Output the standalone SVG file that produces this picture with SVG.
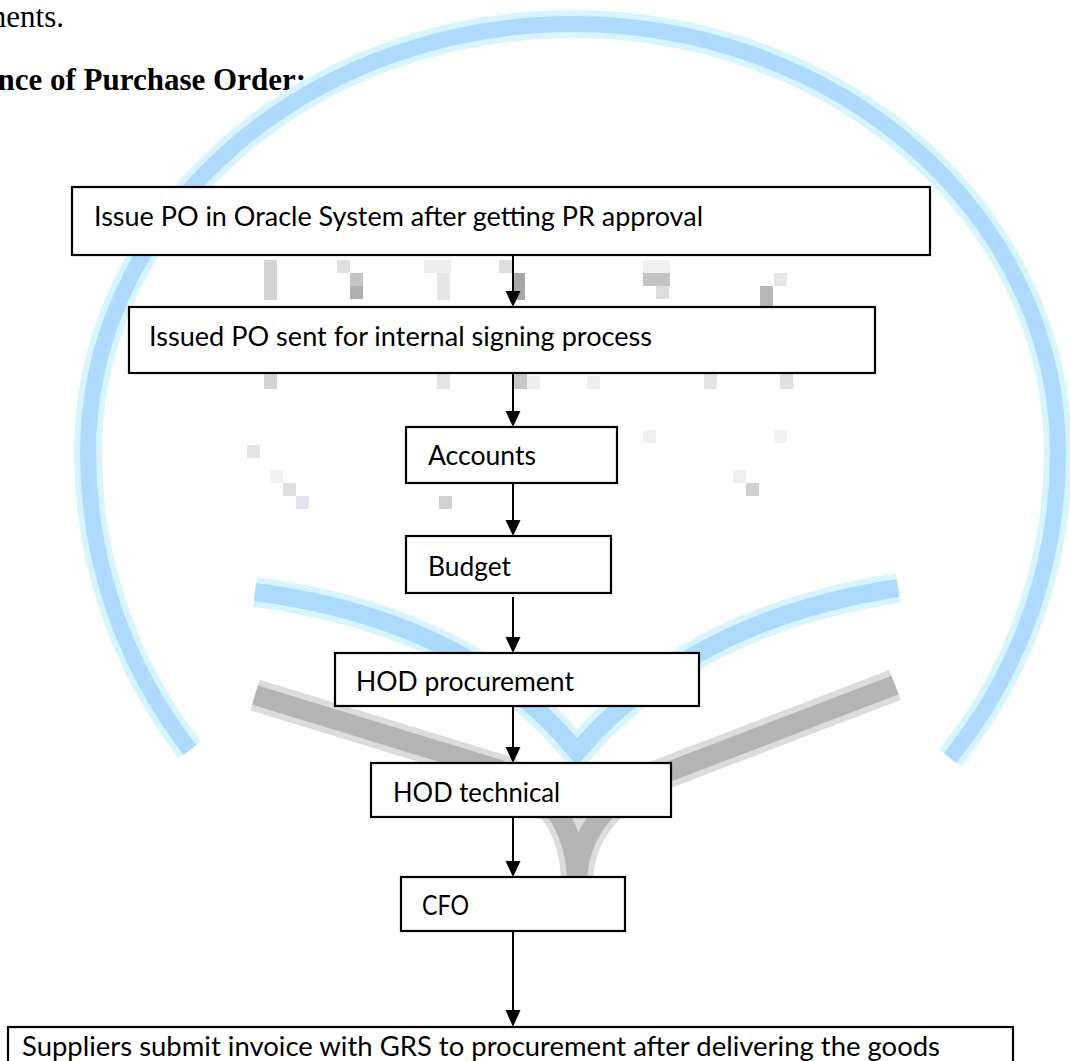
<svg xmlns="http://www.w3.org/2000/svg" width="1070" height="1061" viewBox="0 0 1070 1061">
  <defs>
    <style>
      .box { fill: #ffffff; stroke: #000000; stroke-width: 2.2; }
      .lbl { font-family: Lato, "Liberation Sans", sans-serif; font-size: 27px; fill: #000000; }
      .conn { stroke: #000000; stroke-width: 2; fill: none; }
      .head { fill: #000000; }
    </style>
  </defs>
  <rect x="0" y="0" width="1070" height="1061" fill="#ffffff"/>

  <!-- page text -->
  <text x="64" y="27" text-anchor="end" font-family="'Liberation Serif', serif" font-size="31">ments.</text>
  <text x="306" y="90" text-anchor="end" font-family="'Liberation Serif', serif" font-size="31" font-weight="bold">nce of Purchase Order:</text>

  <!-- watermark -->
  <g id="watermark">
    <path d="M 190,750 A 485 485 0 0 1 88,453 A 485 429 0 0 1 1058,453 A 485 485 0 0 1 950,758" fill="none" stroke="#d6f5ff" stroke-width="28"/>
    <path d="M 190,750 A 485 485 0 0 1 88,453 A 485 429 0 0 1 1058,453 A 485 485 0 0 1 950,758" fill="none" stroke="#aedafd" stroke-width="16"/>
    <path d="M 255,592 Q 470,620 577,752 Q 690,620 898,588" fill="none" stroke="#d6f5ff" stroke-width="30"/>
    <path d="M 255,592 Q 470,620 577,752 Q 690,620 898,588" fill="none" stroke="#acdafd" stroke-width="18"/>
    <path d="M 255,695 L 500,770 Q 577,800 577,885 M 895,685 L 660,775 Q 577,810 577,885" fill="none" stroke="#dcdcdc" stroke-width="32"/>
    <path d="M 255,695 L 500,770 Q 577,800 577,885 M 895,685 L 660,775 Q 577,810 577,885" fill="none" stroke="#b4b4b4" stroke-width="20"/>
    <g>
      <rect x="264" y="260" width="13" height="40" fill="#d4d4d4"/>
      <rect x="337" y="260" width="13" height="13" fill="#e0e0e0"/>
      <rect x="350" y="273" width="13" height="13" fill="#c4c4c4"/>
      <rect x="350" y="286" width="13" height="13" fill="#b0b0b0"/>
      <rect x="424" y="260" width="27" height="13" fill="#eeeeee"/>
      <rect x="437" y="273" width="13" height="27" fill="#e6e6e6"/>
      <rect x="499" y="260" width="13" height="13" fill="#dddddd"/>
      <rect x="514" y="273" width="11" height="27" fill="#a8a8a8"/>
      <rect x="643" y="260" width="27" height="13" fill="#f0f0f0"/>
      <rect x="643" y="273" width="27" height="13" fill="#c4c4c4"/>
      <rect x="656" y="286" width="13" height="13" fill="#dcdcdc"/>
      <rect x="774" y="273" width="13" height="13" fill="#e6e6e6"/>
      <rect x="760" y="286" width="13" height="20" fill="#b8b8b8"/>
      <rect x="264" y="373" width="13" height="16" fill="#d4d4d4"/>
      <rect x="437" y="373" width="13" height="16" fill="#e4e4e4"/>
      <rect x="514" y="373" width="13" height="16" fill="#c8c8c8"/>
      <rect x="527" y="376" width="13" height="13" fill="#eeeeee"/>
      <rect x="587" y="376" width="13" height="13" fill="#eeeeee"/>
      <rect x="704" y="373" width="13" height="16" fill="#e4e4e4"/>
      <rect x="780" y="373" width="13" height="16" fill="#e0e0e0"/>
      <rect x="247" y="445" width="13" height="13" fill="#e4e4e4"/>
      <rect x="270" y="470" width="13" height="13" fill="#f2f2f2"/>
      <rect x="283" y="483" width="13" height="13" fill="#dedede"/>
      <rect x="296" y="496" width="13" height="13" fill="#e2e2f2"/>
      <rect x="439" y="496" width="13" height="13" fill="#d0d0d0"/>
      <rect x="643" y="430" width="13" height="13" fill="#f0f0f0"/>
      <rect x="774" y="430" width="13" height="13" fill="#f2f2f2"/>
      <rect x="733" y="470" width="13" height="13" fill="#f0f0f0"/>
      <rect x="746" y="483" width="13" height="13" fill="#d0d0d0"/>
    </g>
  </g>

  <!-- connectors -->
  <g id="connectors">
    <line class="conn" x1="513" y1="255" x2="513" y2="293"/>
    <polygon class="head" points="505.5,291 520.5,291 513,307"/>
    <line class="conn" x1="513" y1="373" x2="513" y2="413"/>
    <polygon class="head" points="505.5,411 520.5,411 513,427"/>
    <line class="conn" x1="513" y1="483" x2="513" y2="522"/>
    <polygon class="head" points="505.5,520 520.5,520 513,536"/>
    <line class="conn" x1="513" y1="597" x2="513" y2="639"/>
    <polygon class="head" points="505.5,637 520.5,637 513,653"/>
    <line class="conn" x1="513" y1="706" x2="513" y2="749"/>
    <polygon class="head" points="505.5,747 520.5,747 513,763"/>
    <line class="conn" x1="513" y1="817" x2="513" y2="863"/>
    <polygon class="head" points="505.5,861 520.5,861 513,877"/>
    <line class="conn" x1="513" y1="931" x2="513" y2="1012"/>
    <polygon class="head" points="505.5,1010 520.5,1010 513,1027"/>
  </g>

  <!-- nodes -->
  <g id="node-issue-po">
    <rect class="box" x="72" y="187" width="858" height="68"/>
    <text class="lbl" x="94" y="226" textLength="609" lengthAdjust="spacingAndGlyphs">Issue PO in Oracle System after getting PR approval</text>
  </g>
  <g id="node-internal-signing">
    <rect class="box" x="129" y="307" width="746" height="66"/>
    <text class="lbl" x="149" y="346" textLength="503" lengthAdjust="spacingAndGlyphs">Issued PO sent for internal signing process</text>
  </g>
  <g id="node-accounts">
    <rect class="box" x="406" y="427" width="211" height="56"/>
    <text class="lbl" x="428" y="465" textLength="108" lengthAdjust="spacingAndGlyphs">Accounts</text>
  </g>
  <g id="node-budget">
    <rect class="box" x="406" y="536" width="205" height="57"/>
    <text class="lbl" x="428" y="576" textLength="83" lengthAdjust="spacingAndGlyphs">Budget</text>
  </g>
  <g id="node-hod-procurement">
    <rect class="box" x="335" y="653" width="364" height="53"/>
    <text class="lbl" x="356" y="691" textLength="218" lengthAdjust="spacingAndGlyphs">HOD procurement</text>
  </g>
  <g id="node-hod-technical">
    <rect class="box" x="371" y="763" width="300" height="54"/>
    <text class="lbl" x="393" y="802" textLength="167" lengthAdjust="spacingAndGlyphs">HOD technical</text>
  </g>
  <g id="node-cfo">
    <rect class="box" x="401" y="877" width="224" height="54"/>
    <text class="lbl" x="422" y="915" textLength="47" lengthAdjust="spacingAndGlyphs">CFO</text>
  </g>
  <g id="node-suppliers">
    <rect class="box" x="8" y="1027" width="1005" height="60"/>
    <text class="lbl" x="22" y="1056" textLength="918" lengthAdjust="spacingAndGlyphs">Suppliers submit invoice with GRS to procurement after delivering the goods</text>
  </g>
</svg>
